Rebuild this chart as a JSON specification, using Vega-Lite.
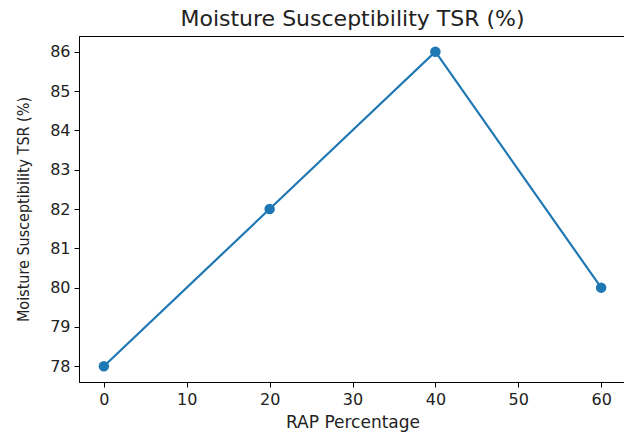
{
  "$schema": "https://vega.github.io/schema/vega-lite/v6.json",
  "autosize": {"type": "none"},
  "width": 547,
  "height": 346,
  "padding": {"left": 79, "top": 36, "right": 0, "bottom": 52},
  "background": "white",
  "config": {
    "font": "DejaVu Sans",
    "view": {"stroke": "#000000", "strokeWidth": 1},
    "axis": {
      "grid": false,
      "domainColor": "#000000",
      "tickColor": "#000000",
      "tickSize": 5,
      "labelColor": "#222222",
      "titleColor": "#222222",
      "labelFontWeight": "normal",
      "titleFontWeight": "normal"
    }
  },
  "title": {
    "text": "Moisture Susceptibility TSR (%)",
    "fontSize": 22,
    "fontWeight": "normal",
    "color": "#222222",
    "anchor": "middle",
    "offset": 5,
    "frame": "group"
  },
  "data": {
    "values": [
      {"rap": 0, "tsr": 78},
      {"rap": 20, "tsr": 82},
      {"rap": 40, "tsr": 86},
      {"rap": 60, "tsr": 80}
    ]
  },
  "encoding": {
    "x": {
      "field": "rap",
      "type": "quantitative",
      "scale": {"domain": [-3, 63], "nice": false, "zero": false},
      "axis": {
        "title": "RAP Percentage",
        "values": [0, 10, 20, 30, 40, 50, 60],
        "labelFontSize": 16,
        "titleFontSize": 17,
        "labelPadding": 4,
        "titlePadding": 7
      }
    },
    "y": {
      "field": "tsr",
      "type": "quantitative",
      "scale": {"domain": [77.6, 86.4], "nice": false, "zero": false},
      "axis": {
        "title": "Moisture Susceptibility TSR (%)",
        "values": [78, 79, 80, 81, 82, 83, 84, 85, 86],
        "labelFontSize": 16,
        "titleFontSize": 16,
        "titleFont": "DejaVu Sans Condensed",
        "labelPadding": 4,
        "titlePadding": 18
      }
    }
  },
  "layer": [
    {"mark": {"type": "line", "color": "#1f77b4", "strokeWidth": 2.2}},
    {"mark": {"type": "point", "filled": true, "opacity": 1, "color": "#1f77b4", "size": 110}}
  ]
}
